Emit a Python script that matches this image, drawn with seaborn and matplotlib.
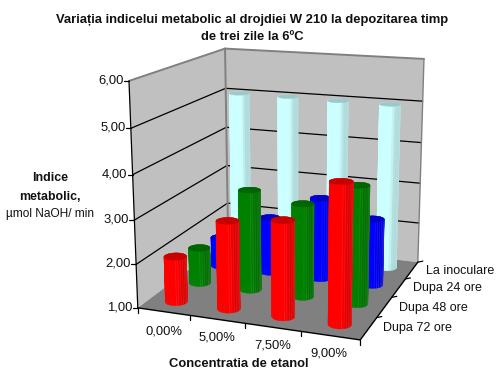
import numpy as np
import pandas as pd
import matplotlib
matplotlib.use("Agg")
import matplotlib.pyplot as plt
import seaborn as sns

concentrations = ["0,00%", "5,00%", "7,50%", "9,00%"]
stages = ["Dupa 72 ore", "Dupa 48 ore", "Dupa 24 ore", "La inoculare"]
after_72h = [2.05, 3.00, 3.15, 4.10]
after_48h = [1.85, 3.35, 3.16, 3.70]
after_24h = [1.72, 2.35, 2.95, 2.58]
at_inoculation = [5.02, 5.02, 5.00, 5.00]
y_ticks = [1, 2, 3, 4, 5, 6]
y_labels = ["1,00", "2,00", "3,00", "4,00", "5,00", "6,00"]

sns.set_theme(style="white")
plt.rcParams["font.family"] = ["Liberation Sans", "DejaVu Sans"]

palette = sns.color_palette(["#FF0000", "#008000", "#0000FF", "#CCFFFF"])
table = pd.DataFrame(
    {"stage": np.repeat(stages, len(concentrations)),
     "col": np.tile(np.arange(len(concentrations)), len(stages)),
     "row": np.repeat(np.arange(len(stages)), len(concentrations)),
     "value": after_72h + after_48h + after_24h + at_inoculation}
)

fig = plt.figure(figsize=(4.96, 3.70), dpi=100)
ax = fig.add_axes([0, 0, 1, 1])
ax.set_xlim(0, 496)
ax.set_ylim(370, 0)
ax.axis("off")

# Perspective camera for the 3D box, solved from its corners on the canvas.
box = [(0, 0, 1, 138, 308), (0, 0, 6, 129, 80.7), (0, 4, 1, 228, 240),
       (0, 4, 6, 225, 48.7), (4, 4, 1, 418, 262), (4, 4, 6, 424, 59),
       (4, 0, 1, 360, 340)]
rows, rhs = [], []
for x, y, z, u, v in box:
    rows.append([x, y, z, 1, 0, 0, 0, 0, -u * x, -u * y, -u * z]); rhs.append(u)
    rows.append([0, 0, 0, 0, x, y, z, 1, -v * x, -v * y, -v * z]); rhs.append(v)
cam = np.append(np.linalg.lstsq(np.array(rows, float), np.array(rhs, float), rcond=None)[0], 1).reshape(3, 4)


def project(x, y, z):
    pts = np.column_stack([x, y, z, np.ones_like(np.asarray(x, float))]) if np.ndim(x) else np.array([[x, y, z, 1.0]])
    out = pts @ cam.T
    return out[:, 0] / out[:, 2], out[:, 1] / out[:, 2]


def seg(a, b, **kw):
    px, py = project(np.array([a[0], b[0]], float), np.array([a[1], b[1]], float), np.array([a[2], b[2]], float))
    ax.plot(px, py, solid_capstyle="round", **kw)


def quad(corners, color, z):
    c = np.array(corners, float)
    px, py = project(c[:, 0], c[:, 1], c[:, 2])
    ax.fill(px, py, color=color, lw=0, zorder=z)


WALL, EDGE = "#C0C0C0", "#808080"
quad([(0, 0, 1), (0, 4, 1), (0, 4, 6), (0, 0, 6)], WALL, 1)
quad([(0, 4, 1), (4, 4, 1), (4, 4, 6), (0, 4, 6)], WALL, 1)
quad([(0, 0, 1), (4, 0, 1), (4, 4, 1), (0, 4, 1)], EDGE, 2)

for v in y_ticks[1:-1]:
    seg((0, 0, v), (0, 4, v), color="black", lw=0.9, zorder=3)
    seg((0, 4, v), (4, 4, v), color="black", lw=0.9, zorder=3)
seg((0, 0, 6), (0, 4, 6), color=EDGE, lw=1.4, zorder=3)
seg((0, 4, 6), (4, 4, 6), color=EDGE, lw=1.4, zorder=3)
seg((0, 4, 1), (0, 4, 6), color=EDGE, lw=1.4, zorder=3)
seg((4, 4, 1), (4, 4, 6), color=EDGE, lw=1.0, zorder=3)
seg((0, 0, 1), (0, 0, 6), color="black", lw=0.9, zorder=4)
seg((0, 0, 1), (4, 0, 1), color="black", lw=1.0, zorder=4)
seg((4, 0, 1), (4, 4, 1), color="black", lw=1.0, zorder=4)

# Value axis ticks and labels.
for v, lab in zip(y_ticks, y_labels):
    px, py = project(0.0, 0.0, float(v))
    ax.plot([px[0] - 5, px[0]], [py[0], py[0]], color="black", lw=0.9, zorder=4)
    ax.text(px[0] - 5.5, py[0] - 0.5, lab, ha="right", va="center", fontsize=9.4, color="#111111")
# Tick marks on the two floor axes.
for i in range(5):
    px, py = project(float(i), 0.0, 1.0)
    ax.plot([px[0], px[0]], [py[0], py[0] + 5], color="black", lw=0.9, zorder=4)
for j in range(1, 5):
    px, py = project(4.0, float(j), 1.0)
    ax.plot([px[0], px[0] + 5], [py[0], py[0] - 1], color="black", lw=0.9, zorder=4)

RADIUS = 0.195
FACETS = 28
theta = np.linspace(0, 2 * np.pi, FACETS + 1)


def cylinder(col, row, value, color, z):
    cx, cy = col + 0.5, row + 0.5
    wx = cx + RADIUS * np.cos(theta)
    wy = cy + RADIUS * np.sin(theta)
    bx, by = project(wx, wy, np.full_like(wx, 1.0))
    tx, ty = project(wx, wy, np.full_like(wx, value))
    left, right = bx.min(), bx.max()
    order = np.argsort((by[:-1] + by[1:]) / 2)
    rgb = np.array(color)
    zz = z
    for k in order:
        t = ((bx[k] + bx[k + 1]) / 2 - left) / (right - left)
        shade = 1.0 if t < 0.58 else 1.0 - 0.14 * min((t - 0.58) / 0.2, 1.0)
        ax.fill([bx[k], bx[k + 1], tx[k + 1], tx[k]], [by[k], by[k + 1], ty[k + 1], ty[k]],
                facecolor=rgb * shade, edgecolor=rgb * shade, lw=0.25, zorder=zz)
        zz += 0.001
    # Faint seams between the visible facets.
    for k in order[len(order) // 2:][::2]:
        ax.plot([bx[k], tx[k]], [by[k], ty[k]], color="white", alpha=0.1, lw=0.5, zorder=zz)
    ax.fill(tx, ty, facecolor=rgb * 0.78, edgecolor=rgb * 0.78, lw=0.3, zorder=zz + 0.001)


for row in range(len(stages) - 1, -1, -1):
    part = table[table["row"] == row].sort_values("col")
    for rec in part.itertuples():
        cylinder(rec.col, rec.row, rec.value, palette[rec.row], 10 + (3 - rec.row) * 2 + rec.col * 0.3)

title_kw = dict(ha="center", va="center", fontsize=9.4, fontweight="bold", color="#111111")
ax.text(251.7, 20, "Variația indicelui metabolic al drojdiei W 210 la depozitarea timp", **title_kw)
ax.text(252, 37, "de trei zile la 6ºC", **title_kw)

ax.text(50, 178, "Indice", ha="center", va="center", fontsize=8.9, fontweight="bold", color="#111111")
ax.text(50, 197, "metabolic,", ha="center", va="center", fontsize=8.9, fontweight="bold", color="#111111")
ax.text(50.5, 214, "µmol NaOH/ min", ha="center", va="center", fontsize=8.6, color="#111111")

for lab, (x, y) in zip(concentrations, [(164, 331), (217, 338), (273, 345.7), (329, 354)]):
    ax.text(x, y, lab, ha="center", va="center", fontsize=9.4, color="#111111")
for lab, (x, y) in zip(stages, [(383, 327.7), (399, 307.7), (413, 287.7), (426, 270.7)]):
    ax.text(x, y, lab, ha="left", va="center", fontsize=9.0, color="#111111")
ax.text(239, 364.3, "Concentratia de etanol", ha="center", va="center", fontsize=9.4, fontweight="bold", color="#111111")

fig.savefig("out.png", dpi=100, facecolor="white")
